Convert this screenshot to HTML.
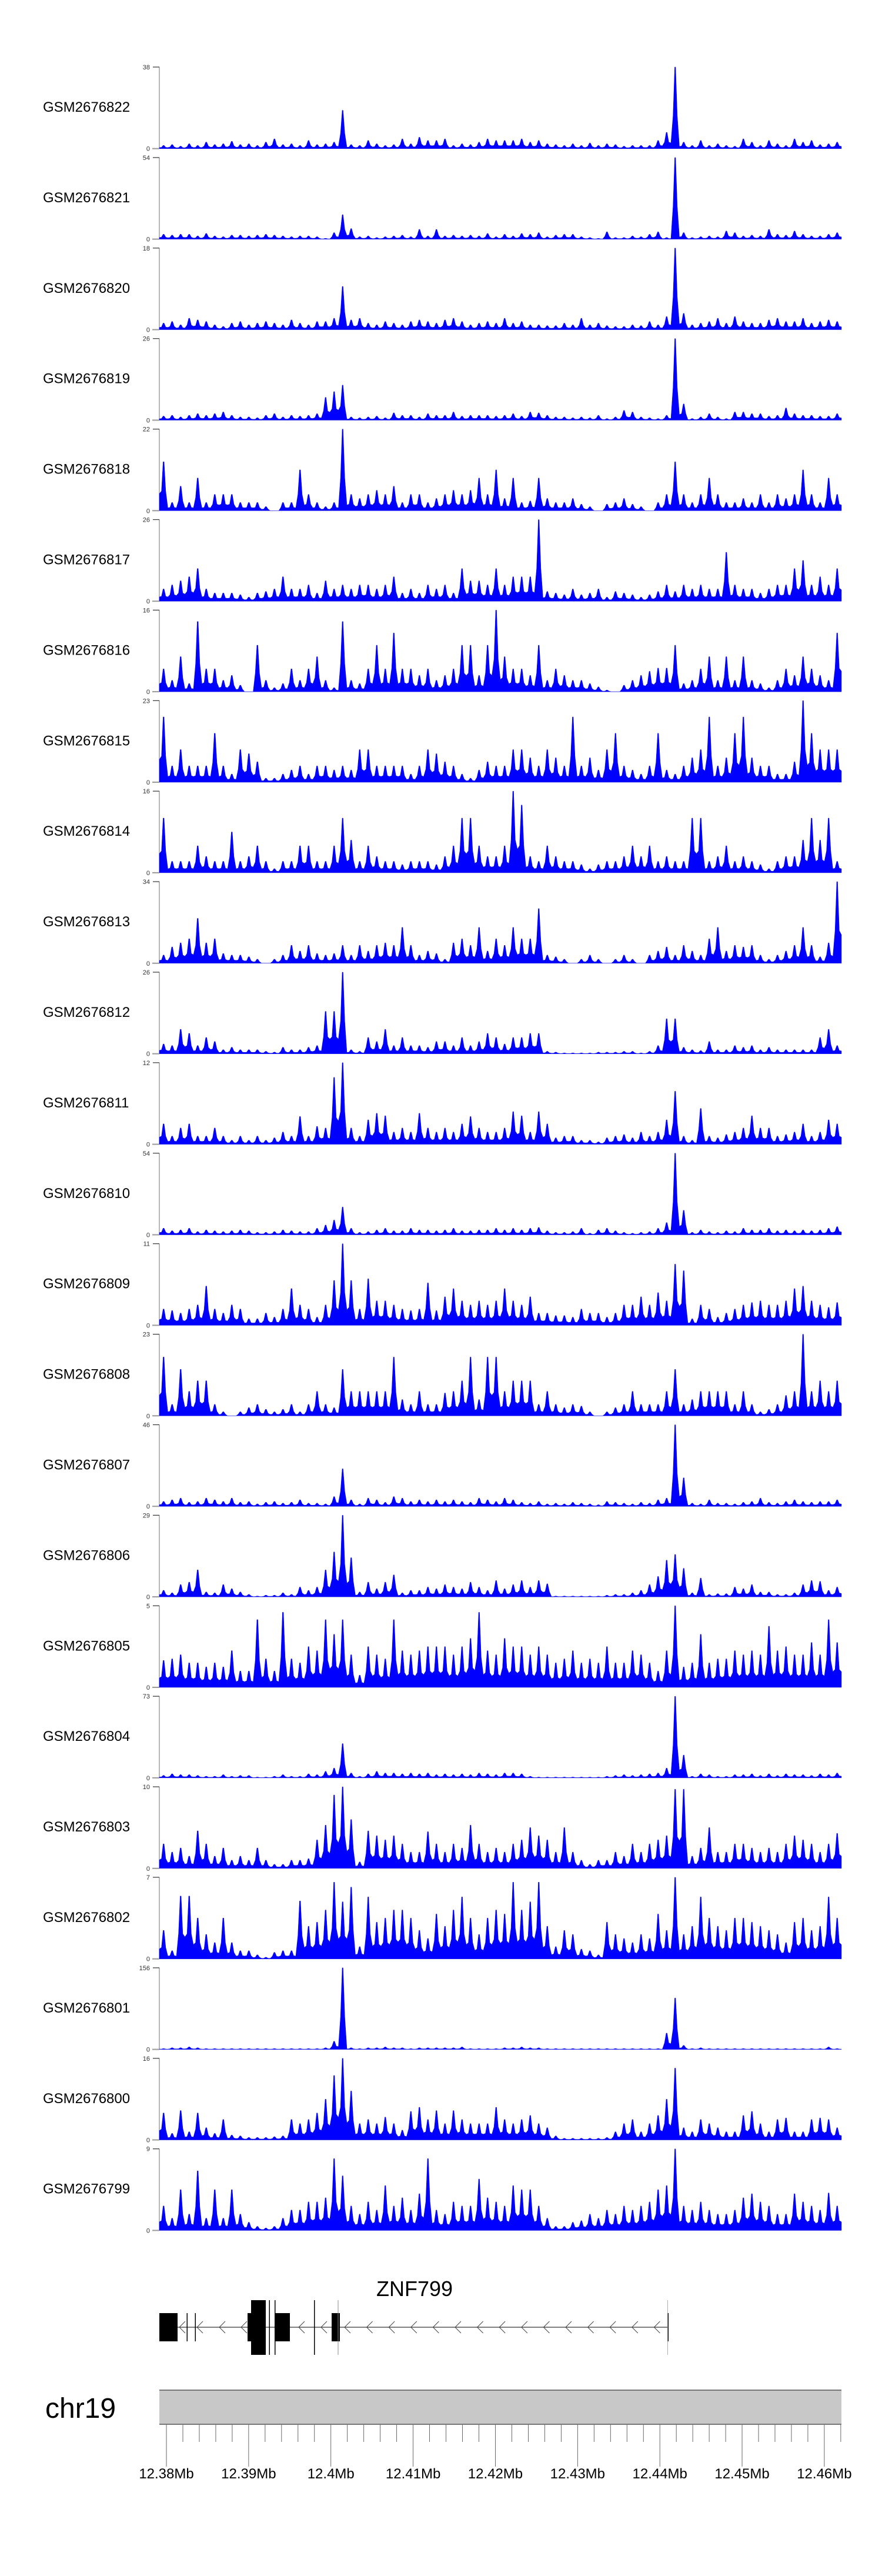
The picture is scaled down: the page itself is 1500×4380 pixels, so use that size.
<!DOCTYPE html>
<html><head><meta charset="utf-8">
<style>
html,body{margin:0;padding:0;background:#fff;}
svg{display:block;}
text{font-family:"Liberation Sans",Arial,sans-serif;}
</style></head>
<body>
<svg id="chart" width="1500" height="4380" viewBox="0 0 1500 4380" xmlns="http://www.w3.org/2000/svg">
<rect x="0" y="0" width="1500" height="4380" fill="#fff"/>
<g id="tracks"></g>
<g id="gene"></g>
<g id="ideo"></g>
</svg>
<script>
// ---- data ----
const trackNames = ["GSM2676822","GSM2676821","GSM2676820","GSM2676819","GSM2676818","GSM2676817","GSM2676816","GSM2676815","GSM2676814","GSM2676813","GSM2676812","GSM2676811","GSM2676810","GSM2676809","GSM2676808","GSM2676807","GSM2676806","GSM2676805","GSM2676804","GSM2676803","GSM2676802","GSM2676801","GSM2676800","GSM2676799"];
const yMax = [38,54,18,26,22,26,16,23,16,34,26,12,54,11,23,46,29,5,73,10,7,156,16,9];
// binned signal, percent of track maximum, 80 bins across 12.3791–12.4621 Mb
const s822=[4,5,3,6,4,8,5,6,9,5, 6,4,8,12,5,6,4,10,5,6, 8,47,5,4,10,6,4,5,12,6, 14,10,10,12,4,6,5,8,12,10, 10,10,12,8,10,6,5,4,6,4, 7,4,6,5,3,4,4,4,10,20, 100,8,4,10,4,6,4,3,12,8, 4,10,6,4,12,8,10,5,6,8];
const s821=[6,5,6,6,4,7,4,3,5,5, 4,5,6,5,4,3,4,4,3,1, 8,30,13,3,4,2,3,4,5,3, 12,4,12,4,5,4,5,4,7,3, 6,4,7,6,8,3,5,6,6,3, 2,1,9,2,2,4,3,6,9,2, 100,8,2,3,4,3,10,8,4,5, 4,12,6,5,10,6,4,4,6,8];
const s820=[8,10,6,14,12,10,6,4,8,10, 6,8,10,8,6,12,8,6,10,10, 14,53,12,14,8,6,10,8,6,10, 12,10,8,12,14,10,6,8,10,8, 14,8,10,6,6,5,5,8,6,14, 6,8,5,4,4,6,5,10,6,16, 100,20,6,8,10,14,8,16,10,8, 8,12,14,10,10,14,8,10,12,10];
const s819=[5,6,4,6,8,6,8,10,6,4, 4,3,6,8,4,6,5,6,8,28, 35,43,4,3,4,5,3,9,6,6, 4,8,6,6,10,5,6,6,6,5, 6,8,5,10,9,6,4,4,3,4, 3,6,2,4,12,10,4,3,2,6, 100,20,2,4,8,4,2,10,10,8, 8,5,6,15,8,6,6,5,5,8];
const s818=[60,10,30,10,40,10,20,20,20,10, 10,10,5,0,10,10,50,20,10,5, 10,100,20,15,20,25,20,30,10,20, 20,10,15,20,25,20,25,40,20,50, 15,40,10,12,40,15,10,10,15,8, 5,0,8,10,15,8,5,0,10,20, 60,20,10,20,40,20,10,10,15,10, 20,10,20,15,20,50,20,10,40,20];
const s817=[15,20,25,30,40,15,10,10,10,8, 5,10,12,15,30,15,15,20,10,25, 15,20,15,20,20,15,20,30,10,15, 10,20,15,20,10,40,25,25,20,40, 20,30,30,30,100,12,10,8,15,8, 10,15,5,12,10,8,5,8,12,20, 12,20,15,20,15,15,60,20,15,15, 10,15,20,20,40,50,20,30,20,40];
const s816=[28,14,43,10,86,28,28,14,20,8, 0,57,14,5,10,28,14,28,43,14, 5,86,14,10,28,57,28,72,28,28, 20,28,14,20,28,57,57,20,57,100, 43,28,28,20,57,14,28,20,14,14, 10,6,2,0,8,14,20,25,29,29, 57,10,14,28,43,14,43,14,43,14, 10,5,14,28,20,43,28,20,14,72];
const s815=[80,20,40,20,20,20,60,20,10,40, 35,25,5,5,10,15,20,10,20,20, 15,20,15,40,40,20,20,20,20,10, 20,40,35,25,20,10,5,15,25,20, 20,40,40,30,20,40,30,20,80,20, 30,15,40,60,20,15,10,20,60,15, 10,20,30,40,80,20,30,60,80,30, 20,20,10,10,25,100,60,40,40,40];
const s814=[67,14,14,14,33,20,14,14,50,14, 20,33,14,5,14,14,33,33,14,14, 33,67,40,14,33,20,14,14,10,14, 14,14,10,20,33,67,67,33,20,20, 33,100,83,20,14,33,20,14,14,10, 5,10,14,14,20,33,20,33,14,20, 14,14,67,67,14,20,33,14,20,14, 10,5,14,20,20,40,67,40,67,14];
const s813=[10,20,25,30,55,25,30,12,10,10, 8,5,0,5,10,22,15,22,12,10, 12,22,10,22,15,22,25,22,44,22, 10,15,12,5,25,30,22,44,15,30, 22,44,30,30,67,10,8,5,0,5, 10,5,0,5,10,5,0,10,15,20, 10,22,15,10,30,44,15,22,20,22, 10,5,10,15,22,44,22,8,25,100];
const s812=[12,10,30,25,10,20,15,5,8,5, 5,5,3,2,8,5,5,8,10,52, 52,100,5,3,20,15,30,10,20,10, 10,8,15,15,10,20,10,15,25,20, 12,20,20,25,25,3,2,1,1,1, 1,2,2,2,3,3,1,3,10,43, 43,8,5,4,15,5,5,10,8,10, 5,8,5,5,5,5,5,20,30,10];
const s811=[25,10,20,25,10,10,20,10,5,10, 5,10,5,8,15,10,34,10,22,20, 82,100,20,10,30,38,35,15,20,15, 38,20,15,20,15,25,34,20,15,15, 20,40,35,15,40,25,8,10,10,5, 5,3,8,10,12,8,15,10,15,30, 65,10,5,44,10,8,12,15,20,35, 20,20,10,12,15,25,10,15,30,25];
const s810=[8,5,6,8,4,6,5,4,5,6, 5,3,3,4,6,5,4,4,8,12, 18,34,8,3,4,6,8,5,5,8, 6,6,5,6,8,5,5,6,6,8, 6,8,6,8,9,5,3,3,4,8, 2,6,8,5,3,2,3,4,8,15, 100,30,3,6,4,3,5,4,8,6, 6,8,5,6,5,6,5,6,8,10];
const s809=[20,18,15,20,25,48,20,15,25,20, 8,8,15,10,20,45,25,20,10,25, 55,100,55,20,57,30,30,25,20,18, 20,52,18,35,45,30,25,30,25,30, 45,30,25,35,15,15,12,12,10,20, 15,15,10,15,25,25,35,25,40,30, 75,67,8,25,20,10,15,20,25,28, 30,25,25,30,45,48,30,25,22,28];
const s808=[72,14,57,30,43,43,14,5,0,5, 10,14,8,5,8,14,5,14,30,14, 10,57,30,30,30,30,30,72,20,14, 30,14,14,28,30,43,72,20,72,72, 30,43,43,43,14,30,14,10,14,12, 5,0,5,10,14,30,14,14,14,30, 57,14,20,30,30,30,30,14,30,14, 5,8,14,25,30,100,30,43,30,43];
const s807=[6,8,10,5,6,10,8,6,10,5, 6,3,5,6,4,5,8,4,4,3, 12,46,8,3,10,8,5,12,10,6, 8,6,8,6,8,6,5,10,8,6, 10,8,5,4,6,3,4,3,5,4, 3,2,6,5,4,3,5,4,8,10, 100,35,4,3,8,4,4,3,5,6, 10,5,4,6,8,6,5,6,6,8];
const s806=[8,5,15,18,33,6,5,15,10,6, 3,1,2,2,5,3,12,8,12,33, 55,100,48,6,18,10,18,27,5,8, 8,12,10,15,12,10,18,12,8,20, 10,15,20,12,20,16,1,1,1,1, 1,1,2,3,3,5,8,15,25,45, 52,35,5,23,3,4,4,12,10,15, 6,6,3,3,5,15,20,19,8,12];
const s805=[33,35,40,30,30,25,30,25,45,20, 20,83,35,20,92,35,30,50,45,83, 65,83,40,15,50,40,35,83,45,40, 45,50,50,50,40,50,60,92,45,40, 60,50,50,40,50,40,30,35,45,30, 35,30,50,30,30,45,40,30,20,45, 100,25,30,65,30,35,35,45,40,45, 40,75,45,50,40,40,55,40,83,55];
const s804=[3,5,4,4,3,2,2,4,2,3, 3,1,1,2,4,2,2,5,4,8, 12,42,6,2,5,8,6,6,5,6, 5,6,4,5,4,5,4,6,5,4, 6,6,5,2,1,1,1,1,1,1, 1,1,2,3,4,3,4,5,6,12, 100,28,2,5,4,2,2,4,4,5, 3,5,3,5,4,4,3,5,4,6];
const s803=[30,20,25,15,46,30,15,25,10,15, 10,25,10,5,5,10,10,12,35,53, 90,100,60,8,46,40,35,40,30,20, 20,45,30,20,30,25,53,30,20,25, 20,30,35,50,40,35,20,50,20,10, 5,10,10,20,15,30,20,30,35,40, 97,97,15,25,50,20,20,30,30,25, 20,25,20,30,40,35,30,20,30,43];
const s802=[35,10,77,77,50,30,20,50,20,10, 10,5,2,8,10,10,71,40,45,60, 94,70,88,15,76,45,50,60,60,50, 35,25,55,40,60,76,50,30,50,60, 55,94,60,70,94,40,15,35,30,12, 10,5,45,30,25,20,30,25,55,35, 100,30,40,76,50,40,35,50,50,45, 40,35,30,20,45,50,35,40,76,50];
const s801=[1,2,2,3,2,1,1,1,1,1, 1,1,1,1,1,1,1,1,1,2, 10,100,2,1,2,2,3,2,2,1, 2,2,2,2,2,3,1,1,1,1, 2,2,3,2,2,1,1,1,1,1, 1,1,1,1,1,1,1,1,1,20, 63,5,1,2,1,1,1,1,1,1, 1,1,1,1,1,1,1,1,3,1];
const s800=[33,8,36,10,33,15,8,25,6,5, 3,3,3,4,5,25,20,25,33,50, 79,100,60,20,25,20,28,20,12,35, 40,25,36,20,36,25,20,20,20,40, 25,20,25,30,20,15,5,2,2,2, 2,2,3,10,20,25,10,20,30,50, 88,15,10,25,20,15,10,10,30,35, 20,10,25,27,10,10,25,27,25,15];
const s799=[30,15,50,20,73,15,50,15,50,20, 10,5,3,5,15,25,25,35,35,40, 88,67,30,20,35,25,55,30,40,25, 45,88,25,20,35,30,30,63,40,35, 30,55,50,50,30,15,5,5,10,12, 20,15,25,20,30,25,30,35,50,55, 100,30,25,35,25,20,20,25,40,45, 35,30,20,20,45,35,30,25,46,30];
const series=[s822,s821,s820,s819,s818,s817,s816,s815,s814,s813,s812,s811,s810,s809,s808,s807,s806,s805,s804,s803,s802,s801,s800,s799];
const axisTicks=[12.38,12.39,12.40,12.41,12.42,12.43,12.44,12.45,12.46];
const axisLabels=["12.38Mb","12.39Mb","12.4Mb","12.41Mb","12.42Mb","12.43Mb","12.44Mb","12.45Mb","12.46Mb"];

// ---- layout ----
const NS="http://www.w3.org/2000/svg";
const X0=271, X1=1431, MB0=12.37914, MB1=12.46208;
const TOP0=114, STEP=153.9, H=138.7;
function xMb(mb){return X0+(mb-MB0)/(MB1-MB0)*(X1-X0);}
function mk(tag,attrs,parent){const e=document.createElementNS(NS,tag);for(const k in attrs)e.setAttribute(k,attrs[k]);parent.appendChild(e);return e;}

const tg=document.getElementById('tracks');
series.forEach((vals,t)=>{
  const top=TOP0+t*STEP, base=top+H;
  const g=mk('g',{},tg);
  
  
  const yS=v=>base-(v/100)*H;
  const lab=mk('text',{x:73,y:top+76,'font-size':24,fill:'#000'},g);
  lab.textContent=trackNames[t];
  
  
  const ax=mk('line',{x1:X0,y1:top,x2:X0,y2:base,stroke:'#999','stroke-width':1.4},g);
  
  
  mk('line',{x1:X0-11,y1:top,x2:X0,y2:top,stroke:'#333','stroke-width':1.2},g);
  mk('line',{x1:X0-12,y1:base,x2:X0,y2:base,stroke:'#999','stroke-width':2},g);
  mk('line',{x1:X0,y1:base,x2:X1,y2:base,stroke:'#ccd','stroke-width':1},g);
  const tMax=mk('text',{x:X0-16,y:top+4,'font-size':11,fill:'#333','text-anchor':'end'},g);
  tMax.textContent=yMax[t];
  
  
  const tZero=mk('text',{x:X0-16,y:base+4,'font-size':11,fill:'#333','text-anchor':'end'},g);
  tZero.textContent='0';
  
  
  const n=vals.length, bw=(X1-X0)/n;
  let d='M'+X0+','+base;
  for(let i=0;i<n;i++){
    const v=vals[i], prev=i>0?vals[i-1]:v;
    const xl=X0+i*bw, xc=xl+bw/2;
    const lo=Math.min(v,prev)*0.35;
    d+=' L'+xl.toFixed(1)+','+yS(lo).toFixed(1);
    d+=' L'+(xc-bw*0.25).toFixed(1)+','+yS(v*0.4).toFixed(1);
    d+=' L'+(xc-0.8).toFixed(1)+','+yS(v).toFixed(1);
    d+=' L'+(xc+0.8).toFixed(1)+','+yS(v).toFixed(1);
    d+=' L'+(xc+bw*0.25).toFixed(1)+','+yS(v*0.4).toFixed(1);
  }
  d+=' L'+X1+','+yS(vals[n-1]*0.35).toFixed(1)+' L'+X1+','+base+' Z';
  const p=mk('path',{d:d,fill:'#0000ff',stroke:'#0000ee','stroke-width':0.4},g);
  
  
});

// ---- gene track ----
const gg=document.getElementById('gene');
const gl=mk('text',{x:705,y:3904,'font-size':36,'text-anchor':'middle',fill:'#000'},gg);
gl.textContent='ZNF799';


mk('line',{x1:302,y1:3957,x2:1136,y2:3957,stroke:'#333','stroke-width':1.3},gg);
const chev=[305,335,373,410,508,546];
for(let x=586;x<1130;x+=37.6)chev.push(x);
chev.forEach(x=>{mk('polyline',{points:(x+10)+',3947 '+x+',3957 '+(x+10)+',3967',fill:'none',stroke:'#444','stroke-width':1},gg);});
const exons=[[271,302,3933,3981],[317.5,319,3933,3981],[331.5,333,3933,3981],[421,452,3933,3981],[427,452,3911,4004],[457.5,459,3911,4004],[467,468.5,3911,4004],[468,493,3933,3981],[534,535.5,3911,4004],[564,578,3933,3981],[1135,1137,3933,3981]];
exons.forEach(e=>{const r=mk('rect',{x:e[0],y:e[2],width:e[1]-e[0],height:e[3]-e[2],fill:'#000'},gg);
  
  });
mk('line',{x1:575,y1:3911,x2:575,y2:4004,stroke:'#888','stroke-width':1},gg);
mk('line',{x1:1135.5,y1:3911,x2:1135.5,y2:4004,stroke:'#999','stroke-width':0.8},gg);

// ---- ideogram / genome axis ----
const ig=document.getElementById('ideo');
const cl=mk('text',{x:77,y:4111,'font-size':48,fill:'#000'},ig);
cl.textContent='chr19';


mk('rect',{x:X0,y:4064,width:X1-X0,height:58,fill:'#c8c8c8'},ig);
mk('line',{x1:X0,y1:4064,x2:X1,y2:4064,stroke:'#777','stroke-width':2},ig);
mk('line',{x1:X0,y1:4122,x2:X1,y2:4122,stroke:'#777','stroke-width':2},ig);
for(let k=0;k<=41;k++){
  const mb=12.38+k*0.002;
  const x=xMb(mb);
  if(x>X1)break;
  const major=(k%5===0);
  mk('line',{x1:x,y1:4123,x2:x,y2:major?4194:4152,stroke:'#444','stroke-width':0.8},ig);
}
axisTicks.forEach((mb,i)=>{
  const t=mk('text',{x:xMb(mb),y:4214,'font-size':24,'text-anchor':'middle',fill:'#000'},ig);
  t.textContent=axisLabels[i];
  
  
});
</script>
</body></html>
